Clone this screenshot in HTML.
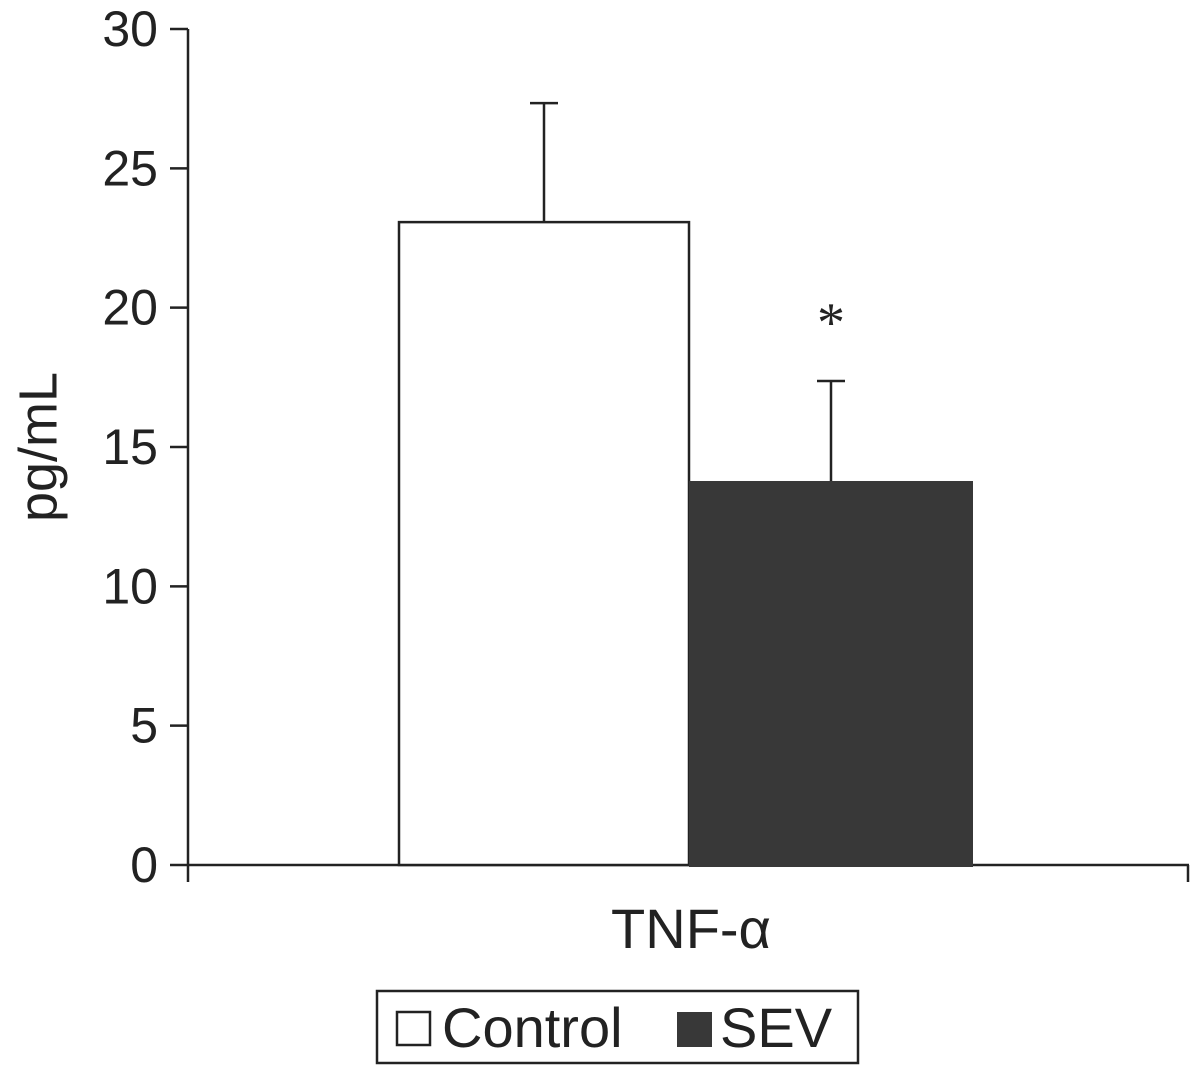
<!DOCTYPE html>
<html><head><meta charset="utf-8"><style>
body{margin:0;background:#fff;}
svg{display:block;font-family:"Liberation Sans",Arial,sans-serif;}
</style></head><body>
<svg id="chart" width="1192" height="1065" viewBox="0 0 1192 1065">
<g id="axes"></g>
<g id="bars"></g>
<text x="42" y="447" font-size="54" fill="#222" text-anchor="middle" transform="rotate(-90 42 447)" dominant-baseline="middle">pg/mL</text>
<text x="691" y="948" font-size="56" fill="#222" text-anchor="middle">TNF-α</text>
<g>
<rect x="377" y="991" width="481" height="72" fill="#fff" stroke="#222" stroke-width="2.5"/>
<rect x="397" y="1012" width="33" height="33" fill="#fff" stroke="#222" stroke-width="2.5"/>
<text x="442" y="1047" font-size="56" fill="#222">Control</text>
<rect x="677" y="1012" width="35" height="35" fill="#383838"/>
<text x="720" y="1047" font-size="56" fill="#222">SEV</text>
</g>
</svg>
<script>
const categories = ["Control", "SEV"];
const means = [23.07, 13.78];
const errors = [4.27, 3.59];
const yTicks = [0, 5, 10, 15, 20, 25, 30];
const sigMarks = ["", "*"];

const NS = "http://www.w3.org/2000/svg";
const y0 = 865, pxPerUnit = (865 - 29) / 30;
function y(v){ return y0 - v * pxPerUnit; }
const barLeft = [399, 689], barW = [290, 284];
const fills = ["#fff", "#383838"];
function mk(tag, attrs, parent){ const e = document.createElementNS(NS, tag); for (const k in attrs) e.setAttribute(k, attrs[k]); parent.appendChild(e); return e; }

const axes = document.getElementById("axes");
let e = mk("line", {x1:188, y1:y(30), x2:188, y2:882, stroke:"#222", "stroke-width":2.5}, axes);


e = mk("line", {x1:188, y1:y0, x2:1189, y2:y0, stroke:"#222", "stroke-width":2.5}, axes);


e = mk("line", {x1:1188, y1:y0, x2:1188, y2:882, stroke:"#222", "stroke-width":2.5}, axes);


yTicks.forEach(t => {
  const l = mk("line", {x1:170, y1:y(t), x2:188, y2:y(t), stroke:"#222", "stroke-width":2.5}, axes);
  
  
  const tx = mk("text", {x:158, y:y(t)+17, "font-size":50, fill:"#222", "text-anchor":"end"}, axes);
  tx.textContent = t;
  
  
});

const bars = document.getElementById("bars");
categories.forEach((c, i) => {
  const cx = barLeft[i] + barW[i] / 2;
  const eb = mk("line", {x1:cx, y1:y(means[i]), x2:cx, y2:y(means[i]+errors[i]), stroke:"#222", "stroke-width":2.5}, bars);
  
  
  const cap = mk("line", {x1:cx-14, y1:y(means[i]+errors[i]), x2:cx+14, y2:y(means[i]+errors[i]), stroke:"#222", "stroke-width":2.5}, bars);
  
  
  const r = mk("rect", {x:barLeft[i], y:y(means[i]), width:barW[i], height:y0 - y(means[i]) + (i===1?2:0), fill:fills[i], stroke: i===0 ? "#222" : "#383838", "stroke-width": i===0 ? 2.5 : 0}, bars);
  
  
  if (sigMarks[i]) {
    const s = mk("text", {x:cx, y:y(means[i]+errors[i]) - 40, "font-size":56, fill:"#222", "text-anchor":"middle", "font-family":"Liberation Serif, serif"}, bars);
    s.textContent = sigMarks[i];
    
    
  }
});
</script>
</body></html>
